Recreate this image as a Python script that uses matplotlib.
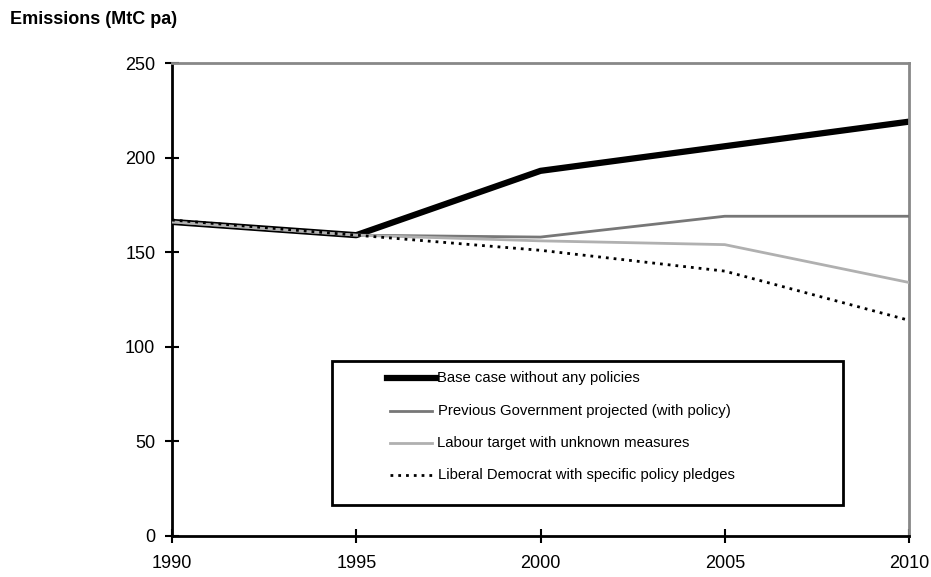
import matplotlib
matplotlib.use("Agg")
import matplotlib.pyplot as plt
from matplotlib.lines import Line2D
from matplotlib.patches import Rectangle

plt.rcParams['font.family'] = ['Liberation Sans', 'DejaVu Sans']

years = [1990, 1995, 2000, 2005, 2010]
base_case = [166, 159, 193, 206, 219]
prev_gov = [166, 159, 158, 169, 169]
labour = [166, 159, 156, 154, 134]
lib_dem = [167, 159, 151, 140, 114]
labels = ["Base case without any policies",
          "Previous Government projected (with policy)",
          "Labour target with unknown measures",
          "Liberal Democrat with specific policy pledges"]

W, H = 931, 577
fig = plt.figure(figsize=(W/100, H/100), dpi=100)
ax = fig.add_axes([172/W, 1-536/H, (909-172)/W, (536-63)/H])

styles = [dict(color='black', lw=4.5),
          dict(color='#777777', lw=2),
          dict(color='#b0b0b0', lw=2),
          dict(color='black', lw=2, linestyle=(0, (1, 1.8)))]
series = [base_case, prev_gov, labour, lib_dem]
for i, (vals, st) in enumerate(zip(series, styles)):
    ax.plot(years, vals, zorder=2 + i, **st)

ax.set_xlim(1990, 2010)
ax.set_ylim(0, 250)
ax.set_xticks(years)
ax.set_yticks([0, 50, 100, 150, 200, 250])
ax.tick_params(axis='both', direction='inout', length=10, width=1.5, labelsize=13, colors='black')
ax.tick_params(axis='x', pad=9)
ax.tick_params(axis='y', pad=7)
for s in ['top', 'right']:
    ax.spines[s].set_color('#888888')
    ax.spines[s].set_linewidth(2)
for s in ['left', 'bottom']:
    ax.spines[s].set_color('black')
    ax.spines[s].set_linewidth(2)

fig.text(10/W, 1-20/H, "Emissions (MtC pa)", fontsize=13, fontweight='bold', va='center', ha='left')

# legend (manual, in figure pixel coordinates)
def fx(px): return px / W
def fy(py): return 1 - py / H
fig.patches.append(Rectangle((fx(332), fy(505)), fx(843) - fx(332), fy(361) - fy(505),
                             transform=fig.transFigure, fill=True, facecolor='white',
                             edgecolor='black', lw=2, zorder=10))
rows = [378, 411, 443, 475]
hx = [(387, 436), (390, 432), (390, 432), (390, 432)]
tx = [437, 438, 437, 438]
for lab, st, ry, (x0, x1), t in zip(labels, styles, rows, hx, tx):
    fig.add_artist(Line2D([fx(x0), fx(x1)], [fy(ry), fy(ry)], transform=fig.transFigure,
                          zorder=11, **st))
    fig.text(fx(t), fy(ry), lab, fontsize=10.7, va='center', ha='left', zorder=12)

fig.savefig("out.png", dpi=100)
